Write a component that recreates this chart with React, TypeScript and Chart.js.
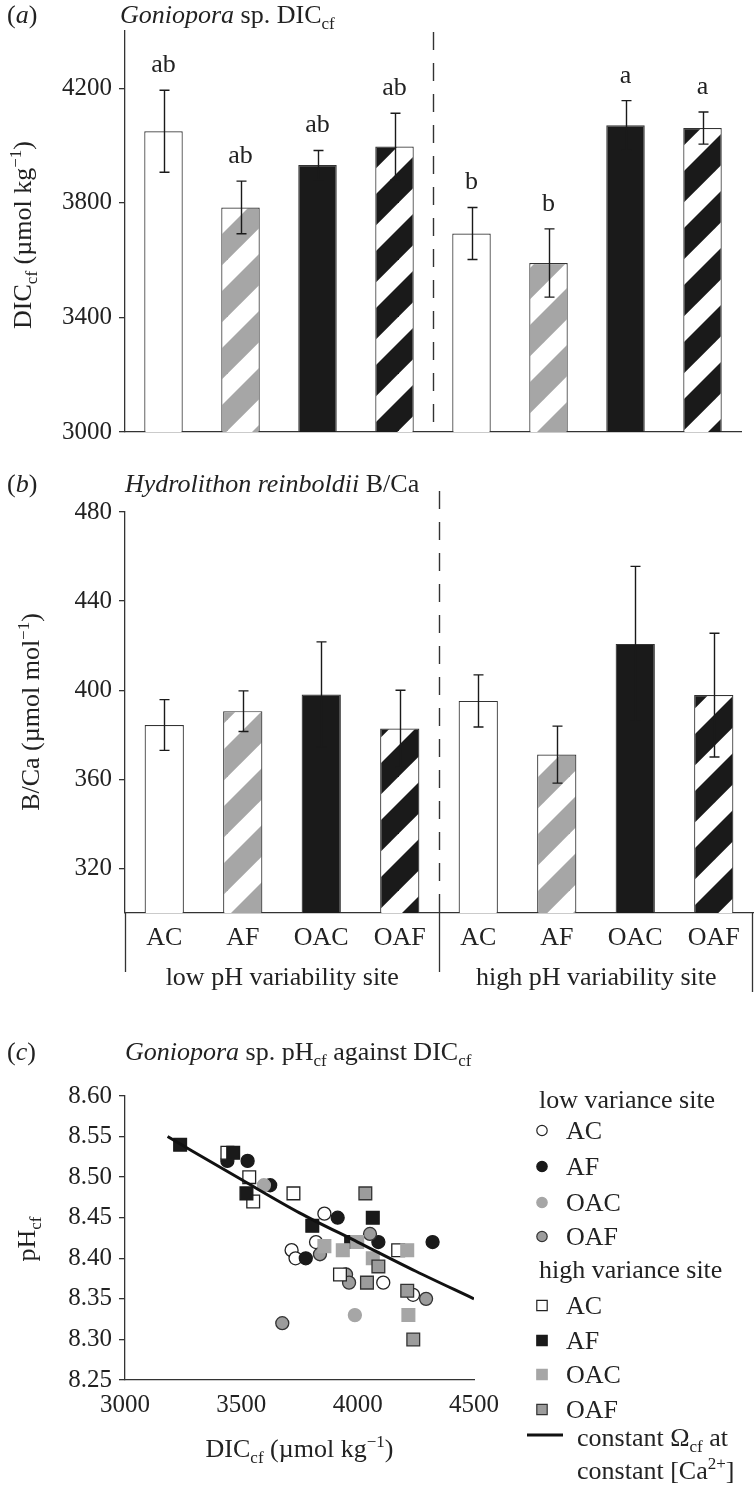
import React, { useEffect, useRef } from 'react';
import { Chart, registerables } from 'chart.js';

Chart.register(...registerables);

const FONT = '"Liberation Serif", "Times New Roman", Times, serif';
const INK = '#222';
const AXIS = '#333';
const BLACK = '#1a1a1a';
const GRAY = '#a6a6a6';
const MIDGRAY = '#9c9c9c';

// ---------------- data ----------------
const categories = ['AC', 'AF', 'OAC', 'OAF', 'AC', 'AF', 'OAC', 'OAF'];
const siteLabels = ['low pH variability site', 'high pH variability site'];

const dicMeans = [4050, 3784, 3932, 3997, 3693, 3590, 4071, 4061];
const dicErrors = [143, 92, 51, 116, 91, 119, 86, 56];
const dicLetters = ['ab', 'ab', 'ab', 'ab', 'b', 'b', 'a', 'a'];
const dicTicks = [3000, 3400, 3800, 4200];

const bcaMeans = [384.4, 390.6, 398.1, 382.8, 395.2, 371.1, 420.8, 397.8];
const bcaErrors = [11.4, 9.1, 23.6, 17.2, 11.7, 12.8, 34.8, 27.8];
const bcaTicks = [320, 360, 400, 440, 480];

const lowAC = [[3857, 8.455], [3821, 8.42], [3716, 8.41], [3733, 8.4], [4110, 8.37], [4238, 8.355]];
const lowAF = [[3440, 8.52], [3527, 8.52], [3624, 8.49], [3914, 8.45], [4089, 8.42], [4322, 8.42], [3777, 8.4]];
const lowOAC = [[3597, 8.49], [3988, 8.33]];
const lowOAF = [[4053, 8.43], [3838, 8.405], [3950, 8.38], [3963, 8.37], [4294, 8.35], [3676, 8.32]];
const highAC = [[3440, 8.53], [3534, 8.5], [3551, 8.47], [3724, 8.48], [4174, 8.41], [3924, 8.38]];
const highAF = [[3237, 8.54], [3465, 8.53], [3522, 8.48], [3805, 8.44], [4065, 8.45], [3972, 8.42]];
const highOAC = [[3998, 8.42], [3857, 8.415], [3936, 8.41], [4213, 8.41], [4065, 8.4], [4218, 8.33]];
const highOAF = [[4033, 8.48], [4089, 8.39], [4040, 8.37], [4213, 8.36], [4239, 8.3]];
const omegaDIC = [3183, 3500, 3750, 4000, 4250, 4500];
const omegaPH = [8.55, 8.497, 8.456, 8.42, 8.384, 8.35];
const scatterXTicks = [3000, 3500, 4000, 4500];
const scatterYTicks = [8.25, 8.3, 8.35, 8.4, 8.45, 8.5, 8.55, 8.6];

// ---------------- rich text helpers ----------------
type Run = { t: string; i?: boolean; sub?: boolean; sup?: boolean };

function runFont(r: Run, size: number) {
  const s = r.sub || r.sup ? Math.round(size * 0.66) : size;
  return `${r.i ? 'italic ' : ''}${s}px ${FONT}`;
}
function runsWidth(ctx: CanvasRenderingContext2D, runs: Run[], size: number) {
  let w = 0;
  for (const r of runs) {
    ctx.font = runFont(r, size);
    w += ctx.measureText(r.t).width;
  }
  return w;
}
function drawRuns(ctx: CanvasRenderingContext2D, runs: Run[], x: number, y: number, size: number, align: 'left' | 'center' = 'left') {
  let cx = align === 'center' ? x - runsWidth(ctx, runs, size) / 2 : x;
  ctx.textAlign = 'left';
  ctx.textBaseline = 'alphabetic';
  ctx.fillStyle = INK;
  for (const r of runs) {
    ctx.font = runFont(r, size);
    const dy = r.sub ? size * 0.22 : r.sup ? -size * 0.4 : 0;
    ctx.fillText(r.t, cx, y + dy);
    cx += ctx.measureText(r.t).width;
  }
}
function drawRunsUp(ctx: CanvasRenderingContext2D, runs: Run[], x: number, y: number, size: number) {
  ctx.save();
  ctx.translate(x, y);
  ctx.rotate(-Math.PI / 2);
  drawRuns(ctx, runs, 0, 0, size, 'center');
  ctx.restore();
}

function makeStripe(color: string): CanvasPattern | string {
  const P = 57;
  const w = P * 0.55;
  const c = document.createElement('canvas');
  c.width = P;
  c.height = P;
  const g = c.getContext('2d');
  if (!g) return color;
  g.fillStyle = '#fff';
  g.fillRect(0, 0, P, P);
  g.fillStyle = color;
  for (let k = -1; k <= 2; k++) {
    const c0 = k * P;
    g.beginPath();
    g.moveTo(c0, 0);
    g.lineTo(c0 + w, 0);
    g.lineTo(c0 + w - P, P);
    g.lineTo(c0 - P, P);
    g.closePath();
    g.fill();
  }
  return g.createPattern(c, 'repeat') || color;
}

function barFills() {
  const grayStripe = makeStripe(GRAY);
  const blackStripe = makeStripe(BLACK);
  return categories.map((c) => (c === 'AC' ? '#ffffff' : c === 'AF' ? grayStripe : c === 'OAC' ? BLACK : blackStripe));
}

function errorBars(means: number[], errs: number[]) {
  return {
    id: 'errorBars',
    afterDatasetsDraw(chart: any) {
      const { ctx } = chart;
      const x = chart.scales.x;
      const y = chart.scales.y;
      ctx.save();
      ctx.strokeStyle = BLACK;
      ctx.lineWidth = 1.4;
      means.forEach((m, i) => {
        const px = Math.round(x.getPixelForValue(i)) + 0.5;
        const t = y.getPixelForValue(m + errs[i]);
        const b = y.getPixelForValue(m - errs[i]);
        ctx.beginPath();
        ctx.moveTo(px, t);
        ctx.lineTo(px, b);
        ctx.moveTo(px - 5, t);
        ctx.lineTo(px + 5, t);
        ctx.moveTo(px - 5, b);
        ctx.lineTo(px + 5, b);
        ctx.stroke();
      });
      ctx.restore();
    },
  };
}

function sepX(chart: any) {
  const x = chart.scales.x;
  return Math.round((x.getPixelForValue(3) + x.getPixelForValue(4)) / 2) + 0.5;
}

function dashedSep(ctx: CanvasRenderingContext2D, x: number, y0: number, y1: number) {
  ctx.save();
  ctx.strokeStyle = AXIS;
  ctx.lineWidth = 1.4;
  ctx.setLineDash([18, 13]);
  ctx.beginPath();
  ctx.moveTo(x, y0);
  ctx.lineTo(x, y1);
  ctx.stroke();
  ctx.restore();
}

function panelLabel(ctx: CanvasRenderingContext2D, letter: string, y: number) {
  drawRuns(ctx, [{ t: '(' }, { t: letter, i: true }, { t: ')' }], 7, y, 26);
}

const tickFont = { family: FONT, size: 25 };

function yAxisCommon(min: number, max: number, ticks: number[], fmt: (v: number) => string) {
  return {
    min,
    max,
    afterBuildTicks: (s: any) => {
      s.ticks = ticks.map((v) => ({ value: v }));
    },
    afterFit: (s: any) => {
      s.width = 125;
    },
    grid: { drawOnChartArea: false, drawTicks: true, tickLength: 6, color: AXIS, lineWidth: 1.3 },
    border: { display: true, color: AXIS, width: 1.3 },
    ticks: { font: tickFont, color: INK, padding: 7, callback: (v: any) => fmt(Number(v)) },
  };
}

function configA(): any {
  return {
    type: 'bar',
    data: {
      labels: categories,
      datasets: [
        {
          data: dicMeans,
          backgroundColor: barFills(),
          borderColor: AXIS,
          borderWidth: 1.2,
          barPercentage: 0.5,
          categoryPercentage: 1,
        },
      ],
    },
    options: {
      responsive: false,
      animation: false,
      devicePixelRatio: 1,
      layout: { padding: { top: 31, right: 14, bottom: 0, left: 0 } },
      plugins: { legend: { display: false }, tooltip: { enabled: false } },
      scales: {
        x: {
          grid: { display: false, drawTicks: false },
          border: { display: true, color: AXIS, width: 1.3 },
          ticks: { display: false },
          afterFit: (s: any) => {
            s.height = 28;
          },
        },
        y: yAxisCommon(3000, 4400, dicTicks, (v) => String(v)),
      },
    },
    plugins: [
      errorBars(dicMeans, dicErrors),
      {
        id: 'decorA',
        afterDraw(chart: any) {
          const { ctx, chartArea } = chart;
          const x = chart.scales.x;
          const y = chart.scales.y;
          dashedSep(ctx, sepX(chart), 32, chartArea.bottom);
          ctx.save();
          ctx.font = `26px ${FONT}`;
          ctx.fillStyle = INK;
          ctx.textAlign = 'center';
          ctx.textBaseline = 'alphabetic';
          dicLetters.forEach((l, i) => {
            ctx.fillText(l, x.getPixelForValue(i), y.getPixelForValue(dicMeans[i] + dicErrors[i]) - 18);
          });
          ctx.restore();
          panelLabel(ctx, 'a', 23);
          drawRuns(ctx, [{ t: 'Goniopora', i: true }, { t: ' sp. DIC' }, { t: 'cf', sub: true }], 120, 23, 26);
          drawRunsUp(ctx, [{ t: 'DIC' }, { t: 'cf', sub: true }, { t: ' (µmol kg' }, { t: '−1', sup: true }, { t: ')' }], 31, 235, 26);
        },
      },
    ],
  };
}

function configB(): any {
  return {
    type: 'bar',
    data: {
      labels: categories,
      datasets: [
        {
          data: bcaMeans,
          backgroundColor: barFills(),
          borderColor: AXIS,
          borderWidth: 1.2,
          barPercentage: 0.5,
          categoryPercentage: 1,
        },
      ],
    },
    options: {
      responsive: false,
      animation: false,
      devicePixelRatio: 1,
      layout: { padding: { top: 52, right: 2, bottom: 0, left: 0 } },
      plugins: { legend: { display: false }, tooltip: { enabled: false } },
      scales: {
        x: {
          grid: { display: false, drawTicks: false },
          border: { display: true, color: AXIS, width: 1.3 },
          ticks: { font: { family: FONT, size: 26 }, color: INK, padding: 10, autoSkip: false, maxRotation: 0 },
          afterFit: (s: any) => {
            s.height = 87;
          },
        },
        y: yAxisCommon(300, 480, bcaTicks, (v) => String(v)),
      },
    },
    plugins: [
      errorBars(bcaMeans, bcaErrors),
      {
        id: 'decorB',
        afterDraw(chart: any) {
          const { ctx, chartArea } = chart;
          const sx = sepX(chart);
          dashedSep(ctx, sx, 31, chartArea.bottom);
          const left = Math.round(chartArea.left) + 0.5;
          const right = Math.round(chartArea.right) - 0.5;
          ctx.save();
          ctx.strokeStyle = AXIS;
          ctx.lineWidth = 1.3;
          ctx.beginPath();
          ctx.moveTo(sx, chartArea.bottom);
          ctx.lineTo(sx, 512);
          ctx.moveTo(left, chartArea.bottom);
          ctx.lineTo(left, 512);
          ctx.moveTo(right, chartArea.bottom);
          ctx.lineTo(right, 532);
          ctx.stroke();
          ctx.restore();
          drawRuns(ctx, [{ t: siteLabels[0] }], (chartArea.left + sx) / 2, 525, 26, 'center');
          drawRuns(ctx, [{ t: siteLabels[1] }], (sx + chartArea.right) / 2, 525, 26, 'center');
          panelLabel(ctx, 'b', 32);
          drawRuns(ctx, [{ t: 'Hydrolithon reinboldii', i: true }, { t: ' B/Ca' }], 125, 32, 26);
          drawRunsUp(ctx, [{ t: 'B/Ca (µmol mol' }, { t: '−1', sup: true }, { t: ')' }], 39, 252, 26);
        },
      },
    ],
  };
}

type PtStyle = { style: 'circle' | 'rect'; fill: string; stroke: string };
const styleLowAC: PtStyle = { style: 'circle', fill: '#ffffff', stroke: '#222' };
const styleLowAF: PtStyle = { style: 'circle', fill: BLACK, stroke: BLACK };
const styleLowOAC: PtStyle = { style: 'circle', fill: GRAY, stroke: GRAY };
const styleLowOAF: PtStyle = { style: 'circle', fill: MIDGRAY, stroke: '#333' };
const styleHighAC: PtStyle = { style: 'rect', fill: '#ffffff', stroke: '#222' };
const styleHighAF: PtStyle = { style: 'rect', fill: BLACK, stroke: BLACK };
const styleHighOAC: PtStyle = { style: 'rect', fill: GRAY, stroke: GRAY };
const styleHighOAF: PtStyle = { style: 'rect', fill: MIDGRAY, stroke: '#333' };

function scatterSet(label: string, pts: number[][], st: PtStyle, order: number) {
  return {
    label,
    data: pts.map(([x, y]) => ({ x, y })),
    pointStyle: st.style,
    pointRadius: st.style === 'circle' ? 6.5 : 9,
    pointBackgroundColor: st.fill,
    pointBorderColor: st.stroke,
    pointBorderWidth: 1.3,
    showLine: false,
    order,
  };
}

function configC(): any {
  const sets = [
    scatterSet('low AC', lowAC, styleLowAC, 9),
    scatterSet('low AF', lowAF, styleLowAF, 8),
    scatterSet('low OAC', lowOAC, styleLowOAC, 7),
    scatterSet('low OAF', lowOAF, styleLowOAF, 6),
    scatterSet('high AC', highAC, styleHighAC, 5),
    scatterSet('high AF', highAF, styleHighAF, 4),
    scatterSet('high OAC', highOAC, styleHighOAC, 3),
    scatterSet('high OAF', highOAF, styleHighOAF, 2),
    {
      label: 'constant Ωcf at constant [Ca2+]',
      data: omegaDIC.map((x, i) => ({ x, y: omegaPH[i] })),
      showLine: true,
      pointRadius: 0,
      borderColor: '#111',
      borderWidth: 3,
      cubicInterpolationMode: 'monotone',
      order: 0,
    },
  ];
  const legendRows: { st?: PtStyle; text: string; y: number }[] = [
    { text: 'low variance site', y: 108 },
    { st: styleLowAC, text: 'AC', y: 139 },
    { st: styleLowAF, text: 'AF', y: 175 },
    { st: styleLowOAC, text: 'OAC', y: 211 },
    { st: styleLowOAF, text: 'OAF', y: 245 },
    { text: 'high variance site', y: 278 },
    { st: styleHighAC, text: 'AC', y: 314 },
    { st: styleHighAF, text: 'AF', y: 349 },
    { st: styleHighOAC, text: 'OAC', y: 383 },
    { st: styleHighOAF, text: 'OAF', y: 418 },
  ];
  return {
    type: 'scatter',
    data: { datasets: sets },
    options: {
      responsive: false,
      animation: false,
      devicePixelRatio: 1,
      layout: { padding: { top: 96, right: 281, bottom: 0, left: 0 } },
      plugins: { legend: { display: false }, tooltip: { enabled: false } },
      scales: {
        x: {
          type: 'linear',
          min: 3000,
          max: 4500,
          afterBuildTicks: (s: any) => {
            s.ticks = scatterXTicks.map((v) => ({ value: v }));
          },
          afterFit: (s: any) => {
            s.height = 108;
          },
          grid: { display: false, drawTicks: false },
          border: { display: true, color: AXIS, width: 1.3 },
          ticks: { font: tickFont, color: INK, padding: 10, maxRotation: 0, callback: (v: any) => String(v) },
        },
        y: yAxisCommon(8.25, 8.6, scatterYTicks, (v) => v.toFixed(2)),
      },
    },
    plugins: [
      {
        id: 'decorC',
        afterDraw(chart: any) {
          const { ctx, chartArea } = chart;
          panelLabel(ctx, 'c', 60);
          drawRuns(
            ctx,
            [{ t: 'Goniopora', i: true }, { t: ' sp. pH' }, { t: 'cf', sub: true }, { t: ' against DIC' }, { t: 'cf', sub: true }],
            125,
            60,
            26
          );
          drawRunsUp(ctx, [{ t: 'pH' }, { t: 'cf', sub: true }], 35, 239, 26);
          drawRuns(
            ctx,
            [{ t: 'DIC' }, { t: 'cf', sub: true }, { t: ' (µmol kg' }, { t: '−1', sup: true }, { t: ')' }],
            (chartArea.left + chartArea.right) / 2,
            457,
            26,
            'center'
          );
          // legend
          const mx = 542;
          legendRows.forEach((row) => {
            if (!row.st) {
              drawRuns(ctx, [{ t: row.text }], 539, row.y, 26);
              return;
            }
            const cy = row.y - 8.5;
            ctx.save();
            ctx.fillStyle = row.st.fill;
            ctx.strokeStyle = row.st.stroke;
            ctx.lineWidth = 1.2;
            ctx.beginPath();
            if (row.st.style === 'circle') ctx.arc(mx, cy, 5.2, 0, Math.PI * 2);
            else ctx.rect(mx - 5.2, cy - 5.2, 10.4, 10.4);
            ctx.fill();
            ctx.stroke();
            ctx.restore();
            drawRuns(ctx, [{ t: row.text }], 566, row.y, 26);
          });
          ctx.save();
          ctx.strokeStyle = '#111';
          ctx.lineWidth = 3;
          ctx.beginPath();
          ctx.moveTo(527, 435);
          ctx.lineTo(563, 435);
          ctx.stroke();
          ctx.restore();
          drawRuns(ctx, [{ t: 'constant Ω' }, { t: 'cf', sub: true }, { t: ' at' }], 577, 446, 26);
          drawRuns(ctx, [{ t: 'constant [Ca' }, { t: '2+', sup: true }, { t: ']' }], 577, 479, 26);
        },
      },
    ],
  };
}

export default function App() {
  const refA = useRef<HTMLCanvasElement>(null);
  const refB = useRef<HTMLCanvasElement>(null);
  const refC = useRef<HTMLCanvasElement>(null);

  useEffect(() => {
    const charts: Chart[] = [];
    if (refA.current) charts.push(new Chart(refA.current, configA()));
    if (refB.current) charts.push(new Chart(refB.current, configB()));
    if (refC.current) charts.push(new Chart(refC.current, configC()));
    return () => {
      charts.forEach((c) => c.destroy());
    };
  }, []);

  const cs: React.CSSProperties = { position: 'absolute', left: 0, display: 'block' };
  return (
    <div style={{ position: 'absolute', left: 0, top: 0, width: 755, height: 1488, background: '#fff' }}>
      <canvas ref={refA} width={755} height={460} style={{ ...cs, top: 0, width: 755, height: 460 }} />
      <canvas ref={refB} width={755} height={540} style={{ ...cs, top: 460, width: 755, height: 540 }} />
      <canvas ref={refC} width={755} height={488} style={{ ...cs, top: 1000, width: 755, height: 488 }} />
    </div>
  );
}
